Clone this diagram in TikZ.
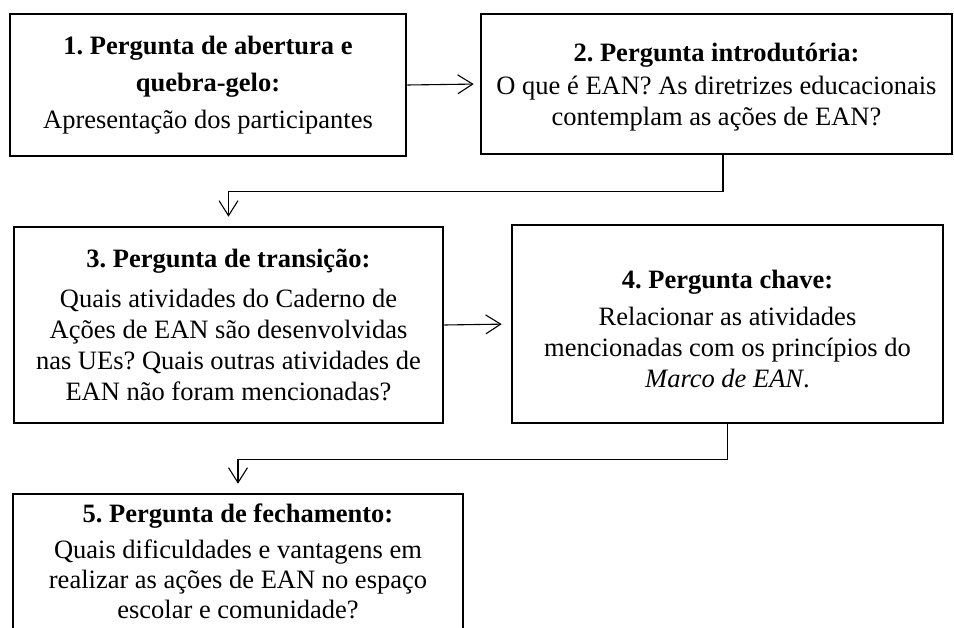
\documentclass[tikz,border=0pt]{standalone}
\usepackage{fontspec}
\setmainfont{Liberation Serif}
\usetikzlibrary{arrows.meta}
\frenchspacing
\begin{document}
\begin{tikzpicture}[x=1pt,y=-1pt,
  border/.style={line width=2.6pt},
  box/.style={draw, border, align=center, inner sep=0pt,
    font=\fontsize{26.5}{31}\selectfont\frenchspacing},
  conn/.style={line width=1.1pt, -{Straight Barb[length=15pt,width=19pt,line width=1.1pt]}}]
\clip (0,0) rectangle (954,628);
\useasboundingbox (0,0) rectangle (954,628);
\fill[white] (0,0) rectangle (954,628);
\node[box, minimum width=396, minimum height=142] (b1) at (208,85)
  {\textbf{1. Pergunta de abertura e}\\[6pt]\textbf{quebra-gelo:}\\[6pt]Apresentação dos participantes};
\node[box, minimum width=471, minimum height=140] (b2) at (716.5,84)
  {\rule{0pt}{24pt}\textbf{2. Pergunta introdutória:}\\[2pt]O que é EAN? As diretrizes educacionais\\contemplam as ações de EAN?};
\node[box, minimum width=429, minimum height=196] (b3) at (228.5,325)
  {\textbf{3. Pergunta de transição:}\\[9pt]Quais atividades do Caderno de\\Ações de EAN são desenvolvidas\\nas UEs? Quais outras atividades de\\EAN não foram mencionadas?};
\node[box, minimum width=431, minimum height=198] (b4) at (727.5,324)
  {\rule{0pt}{28pt}\textbf{4. Pergunta chave:}\\[6pt]Relacionar as atividades\\mencionadas com os princípios do\\\textit{Marco de EAN}.};
\node[box, draw=none, minimum width=448, minimum height=132] (b5) at (238,561)
  {\textbf{5. Pergunta de fechamento:}\\[5pt]Quais dificuldades e vantagens em\\[-1pt]realizar as ações de EAN no espaço\\[-1pt]escolar e comunidade?};
\draw[line width=2.3pt] ([yshift=-20pt]b5.south west) |- (b5.north east) -- ([yshift=-20pt]b5.south east);
\draw[conn, shorten >=6pt] (b1.east) -- (b2.west);
\draw[conn, shorten >=9pt] ([xshift=6.5pt]b2.south) -- ++(0,36) -| (b3.north);
\draw[conn, shorten >=9pt] (b3.east) -- (b4.west);
\draw[conn, shorten >=10pt] (b4.south) -- ++(0,35) -| (b5.north);
\end{tikzpicture}
\end{document}
